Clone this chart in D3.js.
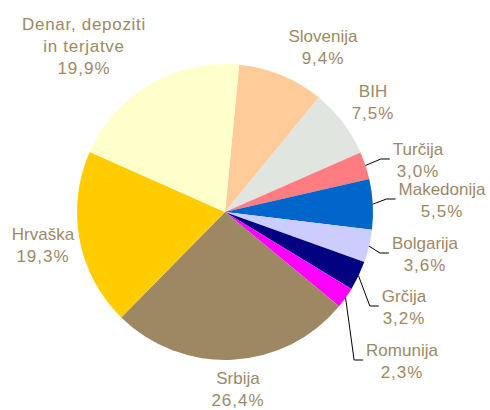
<!DOCTYPE html>
<html>
<head>
<meta charset="utf-8">
<script src="https://cdn.jsdelivr.net/npm/d3@7"></script>
<style>
  body { margin: 0; background: #fff; }
  #chart { width: 490px; height: 410px; }
  .lbl { font-family: "Liberation Sans", Arial, sans-serif; font-size: 17px; fill: #9e8866; }
</style>
</head>
<body>
<div id="chart"></div>
<script>
// data (clockwise from the top)
const categories = ["Slovenija", "BIH", "Turčija", "Makedonija", "Bolgarija", "Grčija", "Romunija", "Srbija", "Hrvaška", "Denar, depoziti in terjatve"];
const shares = [9.4, 7.5, 3.0, 5.5, 3.6, 3.2, 2.3, 26.4, 19.3, 19.9];
const shareLabels = ["9,4%", "7,5%", "3,0%", "5,5%", "3,6%", "3,2%", "2,3%", "26,4%", "19,3%", "19,9%"];
const nameLines = [["Slovenija"], ["BIH"], ["Turčija"], ["Makedonija"], ["Bolgarija"], ["Grčija"], ["Romunija"], ["Srbija"], ["Hrvaška"], ["Denar, depoziti", "in terjatve"]];
const colors = ["#ffcc99", "#e0e5e0", "#ff7c80", "#0066cc", "#ccccff", "#000080", "#ff00ff", "#9e8763", "#ffcc00", "#ffffcc"];

// layout: label centre x, first baseline y, leader line yes/no
const labelPos = [[323, 42], [373, 97], [418, 155], [442, 195], [425, 249], [404, 302], [402, 356], [238, 384], [43, 240], [84, 30]];
const hasLeader = [false, false, true, true, true, true, true, false, false, false];

const width = 490, height = 410;
const cx = 225, cy = 212, radius = 148;
const start = 5.5 * Math.PI / 180;

const svg = d3.select("#chart").append("svg")
    .attr("width", width)
    .attr("height", height);

const pie = d3.pie().sort(null).value(d => d).startAngle(start).endAngle(start + 2 * Math.PI);
const arcs = pie(shares);
const arc = d3.arc().innerRadius(0).outerRadius(radius);
const edge = d3.arc().innerRadius(radius).outerRadius(radius);

const g = svg.append("g").attr("transform", `translate(${cx},${cy})`);

g.selectAll("path.slice")
    .data(arcs)
    .enter()
    .append("path")
    .attr("class", "slice")
    .attr("d", arc)
    .attr("fill", (d, i) => colors[i]);

// labels
arcs.forEach(function(d, i) {
    const [lx, ly] = labelPos[i];
    const lines = nameLines[i].concat([shareLabels[i]]);
    const t = svg.append("text")
        .attr("class", "lbl")
        .attr("text-anchor", "middle");
    lines.forEach(function(line, j) {
        t.append("tspan")
            .attr("x", lx)
            .attr("y", ly + j * 22)
            .style("letter-spacing", j == lines.length - 1 ? "1px" : (i == 9 ? "0.7px" : "0px"))
            .text(line);
    });

    if (hasLeader[i]) {
        const w = t.select("tspan").node().getComputedTextLength();
        const endX = lx - w / 2 - 3;
        const p = edge.centroid(d);
        const pts = [[cx + p[0], cy + p[1]], [endX - 9, ly + 4], [endX, ly + 4]];
        svg.append("path")
            .attr("d", d3.line()(pts))
            .attr("fill", "none")
            .attr("stroke", "#000")
            .attr("stroke-width", 1);
    }
});
</script>
</body>
</html>
